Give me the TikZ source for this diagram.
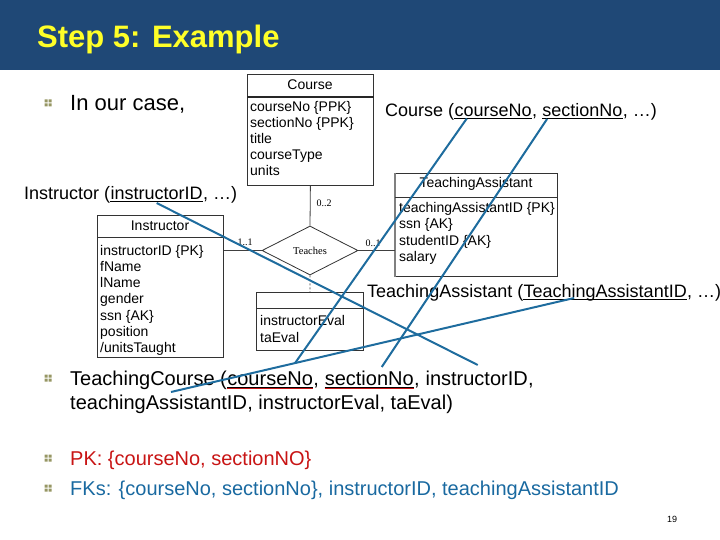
\documentclass[tikz,border=0pt]{standalone}
\usepackage{fontspec}
\setmainfont{Liberation Sans}
\newfontfamily\serifdiag{Liberation Serif}
\usetikzlibrary{calc,shapes.geometric}
\definecolor{navyband}{RGB}{31,72,118}
\definecolor{titleyellow}{RGB}{255,255,40}
\definecolor{linkblue}{RGB}{30,108,158}
\definecolor{pkred}{RGB}{200,20,20}
\definecolor{fkblue}{RGB}{25,105,160}
\definecolor{bulletolive}{RGB}{150,150,100}
\tikzset{
  txt/.style={inner sep=0pt, anchor=base west},
  hugetxt/.style={txt, font=\fontsize{22}{26}\selectfont},
  bodytxt/.style={txt, font=\fontsize{20}{24}\selectfont},
  reltxt/.style={txt, font=\fontsize{18}{22}\selectfont},
  boxtxt/.style={inner sep=0pt, anchor=base west, font=\fontsize{14}{16}\selectfont},
  boxhead/.style={inner sep=0pt, anchor=base, font=\fontsize{14}{16}\selectfont},
  umlbox/.style={draw=black!80, line width=0.8pt, inner sep=0pt, anchor=north west, fill=white},
  link/.style={draw=linkblue, line width=2pt},
  assocline/.style={draw=black!75, line width=0.8pt},
  multlabel/.style={inner sep=0pt, font=\serifdiag\fontsize{10}{12}\selectfont},
  olivebullet/.pic={\fill[bulletolive] (-3.5,-3.5) rectangle (-0.5,-0.5) (0.5,-3.5) rectangle (3.5,-0.5) (-3.5,0.5) rectangle (-0.5,3.5) (0.5,0.5) rectangle (3.5,3.5);}
}
\begin{document}
\begin{tikzpicture}[x=1pt,y=-1pt]
\useasboundingbox (0,0) rectangle (720,540);
\fill[navyband] (0,0) rectangle (720,70);
\node[txt, font=\fontsize{31}{36}\selectfont\bfseries, text=titleyellow] (title) at (37,48) {Step 5: Example};

% bullets
\pic at (48,103) {olivebullet};
\pic at (48,378) {olivebullet};
\pic at (48,458) {olivebullet};
\pic at (48,488) {olivebullet};

\node[hugetxt] (case) at (70,111) {In our case,};

% ---------- UML boxes ----------
% Course
\node[umlbox, minimum width=126pt, minimum height=111pt] (course) at (247,74) {};
\draw[black!85, line width=1.6pt] ($(course.north west)+(0,23)$) -- ($(course.north east)+(0,23)$);
\node[boxhead] (courseH) at (310,90) {Course};
\node[boxtxt] (ca1) at (250,112) {courseNo \{PPK\}};
\node[boxtxt] (ca2) at (250,128) {sectionNo \{PPK\}};
\node[boxtxt] (ca3) at (250,144) {title};
\node[boxtxt] (ca4) at (250,160) {courseType};
\node[boxtxt] (ca5) at (250,176) {units};

% Instructor
\node[umlbox, minimum width=126pt, minimum height=142pt] (instr) at (97,215) {};
\draw[black!80, line width=0.8pt] ($(instr.north west)+(0,22)$) -- ($(instr.north east)+(0,22)$);
\node[boxhead] (instrH) at (160,230) {Instructor};
\node[boxtxt] (ia1) at (100,255) {instructorID \{PK\}};
\node[boxtxt] (ia2) at (100,271) {fName};
\node[boxtxt] (ia3) at (100,287.5) {lName};
\node[boxtxt] (ia4) at (100,303.5) {gender};
\node[boxtxt] (ia5) at (100,320) {ssn \{AK\}};
\node[boxtxt] (ia6) at (100,336) {position};
\node[boxtxt] (ia7) at (100,352) {/unitsTaught};

% TeachingAssistant
\node[umlbox, minimum width=162pt, minimum height=103pt] (ta) at (395,173) {};
\draw[black!50, line width=2pt] (ta.north west) -- (ta.south west);
\draw[black!80, line width=0.8pt] ($(ta.north west)+(0,24)$) -- ($(ta.north east)+(0,24)$);
\node[boxhead] (taH) at (476,188) {TeachingAssistant};
\node[boxtxt] (ta1) at (399,213) {teachingAssistantID \{PK\}};
\node[boxtxt] (ta2) at (399,229) {ssn \{AK\}};
\node[boxtxt] (ta3) at (399,245) {studentID \{AK\}};
\node[boxtxt] (ta4) at (399,261) {salary};

% association class
\node[umlbox, minimum width=107pt, minimum height=58pt] (assoc) at (256,292) {};
\draw[black!80, line width=0.8pt] ($(assoc.north west)+(0,16)$) -- ($(assoc.north east)+(0,16)$);
\node[boxtxt] (as1) at (260,325) {instructorEval};
\node[boxtxt] (as2) at (260,342) {taEval};

% relationship diamond
\node[diamond, draw=black!80, line width=0.8pt, minimum width=96pt, minimum height=49pt, aspect=2, inner sep=0pt, fill=white, font=\serifdiag\fontsize{10.5}{12}\selectfont] (teaches) at (310,250.5) {Teaches};
\draw[assocline] (course.south) -- (teaches.north);
\draw[assocline] (teaches.west) -- (teaches.west -| instr.east);
\draw[assocline] (teaches.east) -- (teaches.east -| ta.west);
\draw[assocline, dash pattern=on 2pt off 2pt] (teaches.south) -- (assoc.north);
\node[multlabel] (m1) at (324,203) {0..2};
\node[multlabel] (m2) at (245,242) {1..1};
\node[multlabel] (m3) at (373,243) {0..1};

% ---------- relation texts ----------
% Course (courseNo, sectionNo, ...)
\node[reltxt] (cA) at (385,117) {Course (};
\node[reltxt] (cNo) at (cA.base east) {courseNo};
\node[reltxt] (cB) at (cNo.base east) {,};
\node[reltxt] (cSec) at ([xshift=5pt]cB.base east) {sectionNo};
\node[reltxt] (cC) at (cSec.base east) {, …)};
\draw[line width=1pt] ($(cNo.base west)+(0,2)$) -- ($(cNo.base east)+(0,2)$);
\draw[line width=1pt] ($(cSec.base west)+(0,2)$) -- ($(cSec.base east)+(0,2)$);

% Instructor (instructorID, ...)
\node[reltxt] (iA) at (24,200) {Instructor (};
\node[reltxt] (iID) at (iA.base east) {instructorID};
\node[reltxt] (iB) at (iID.base east) {, …)};
\draw[line width=1pt] ($(iID.base west)+(0,2)$) -- ($(iID.base east)+(0,2)$);

% TeachingAssistant (TeachingAssistantID, ...)
\node[reltxt] (tA) at (367,297) {TeachingAssistant (};
\node[reltxt] (tID) at (tA.base east) {TeachingAssistantID};
\node[reltxt] (tB) at (tID.base east) {, …)};
\draw[line width=1pt] ($(tID.base west)+(0,2)$) -- ($(tID.base east)+(0,2)$);

% TeachingCourse(...)
\node[bodytxt] (kA) at (70,385) {TeachingCourse (};
\node[bodytxt] (kNo) at (kA.base east) {courseNo};
\node[bodytxt] (kB) at (kNo.base east) {,};
\node[bodytxt] (kSec) at ([xshift=5.5pt]kB.base east) {sectionNo};
\node[bodytxt] (kC) at (kSec.base east) {,};
\node[bodytxt] (kIns) at ([xshift=5.5pt]kC.base east) {instructorID};
\node[bodytxt] (kD) at (kIns.base east) {,};
\node[bodytxt] (kTA) at (70,409) {teachingAssistantID};
\node[bodytxt] (kE) at (kTA.base east) {, instructorEval, taEval)};
\draw[line width=0.9pt] ($(kNo.base west)+(0,2)$) -- ($(kNo.base east)+(0,2)$);
\draw[line width=0.9pt] ($(kSec.base west)+(0,2)$) -- ($(kSec.base east)+(0,2)$);
\draw[pkred, line width=0.7pt] ($(kNo.base west)+(0,3.3)$) -- ($(kNo.base east)+(0,3.3)$);
\draw[pkred, line width=0.7pt] ($(kSec.base west)+(0,3.3)$) -- ($(kSec.base east)+(0,3.3)$);

\node[bodytxt, text=pkred] (pk) at (70,465) {PK: \{courseNo, sectionNO\}};
\node[bodytxt, text=fkblue] (fk) at (70,495) {FKs: \{courseNo, sectionNo\}, instructorID, teachingAssistantID};

\node[inner sep=0pt, font=\fontsize{9}{10}\selectfont] (pageno) at (672,519) {19};

% ---------- blue links ----------
\coordinate (l1a) at ($(cNo.base west)!0.16!(cNo.base east)+(0,1.5)$);
\coordinate (l1b) at ($(kNo.base west)!0.79!(kNo.base east)+(0,-22)$);
\coordinate (l2a) at ($(cSec.base west)!0.06!(cSec.base east)+(0,2)$);
\coordinate (l2b) at ($(kSec.base west)!0.64!(kSec.base east)+(0,-18)$);
\coordinate (l3a) at ($(iID.base west)!0.5!(iID.base east)+(0,3)$);
\coordinate (l3b) at ($(kIns.base west)!0.51!(kIns.base east)+(0,-20)$);
\coordinate (l4a) at ($(tID.base west)!0.31!(tID.base east)+(0,1)$);
\coordinate (l4b) at ($(kTA.base west)!0.57!(kTA.base east)+(0,-17)$);
\draw[link] (l1a) -- (l1b);
\draw[link] (l2a) -- (l2b);
\draw[link] (l3a) -- (l3b);
\draw[link] (l4a) -- (l4b);
\end{tikzpicture}
\end{document}
